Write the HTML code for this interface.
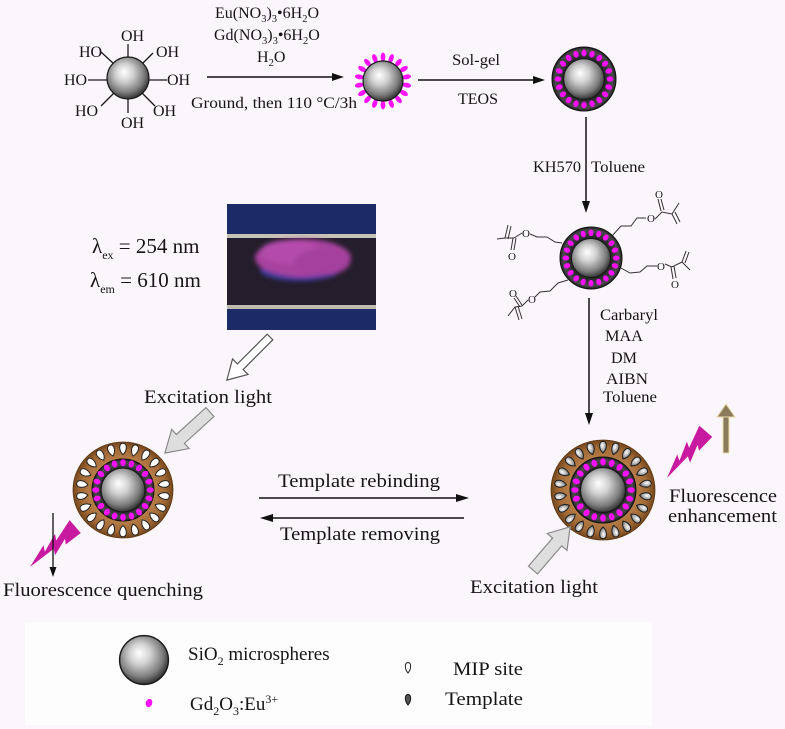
<!DOCTYPE html>
<html>
<head>
<meta charset="utf-8">
<style>
html,body{margin:0;padding:0;background:#fbf6fb;}
svg{display:block;}
text{font-family:"Liberation Serif",serif;fill:#151515;}
</style>
</head>
<body>
<svg width="785" height="729" viewBox="0 0 785 729" xmlns="http://www.w3.org/2000/svg">
<defs>
  <radialGradient id="sg" cx="0.45" cy="0.42" r="0.6" fx="0.4" fy="0.35">
    <stop offset="0" stop-color="#ffffff"/>
    <stop offset="0.35" stop-color="#d2d2d2"/>
    <stop offset="0.75" stop-color="#7c7c7c"/>
    <stop offset="1" stop-color="#2a2a2a"/>
  </radialGradient>
  <radialGradient id="dr" cx="0.5" cy="0.5" r="0.5">
    <stop offset="0.6" stop-color="#1e1e1e"/>
    <stop offset="0.9" stop-color="#4a4a4a"/>
    <stop offset="1" stop-color="#222"/>
  </radialGradient>
  <radialGradient id="br" cx="0.5" cy="0.5" r="0.5">
    <stop offset="0.55" stop-color="#c08650"/>
    <stop offset="0.85" stop-color="#a36a36"/>
    <stop offset="1" stop-color="#74461c"/>
  </radialGradient>
  <radialGradient id="tg" cx="0.4" cy="0.35" r="0.7">
    <stop offset="0" stop-color="#ffffff"/>
    <stop offset="0.6" stop-color="#a8a8a8"/>
    <stop offset="1" stop-color="#3a3a3a"/>
  </radialGradient>
  <filter id="blur1"><feGaussianBlur stdDeviation="2.5"/></filter>

  <g id="ball"><circle r="20" fill="url(#sg)" stroke="#1a1a1a" stroke-width="1.2"/></g>

  <g id="pring" fill="#ff10ff">
    <ellipse cx="0" cy="-26" rx="2.6" ry="3.4" transform="rotate(0)"/>
    <ellipse cx="0" cy="-26" rx="2.6" ry="3.4" transform="rotate(18)"/>
    <ellipse cx="0" cy="-26" rx="2.6" ry="3.4" transform="rotate(36)"/>
    <ellipse cx="0" cy="-26" rx="2.6" ry="3.4" transform="rotate(54)"/>
    <ellipse cx="0" cy="-26" rx="2.6" ry="3.4" transform="rotate(72)"/>
    <ellipse cx="0" cy="-26" rx="2.6" ry="3.4" transform="rotate(90)"/>
    <ellipse cx="0" cy="-26" rx="2.6" ry="3.4" transform="rotate(108)"/>
    <ellipse cx="0" cy="-26" rx="2.6" ry="3.4" transform="rotate(126)"/>
    <ellipse cx="0" cy="-26" rx="2.6" ry="3.4" transform="rotate(144)"/>
    <ellipse cx="0" cy="-26" rx="2.6" ry="3.4" transform="rotate(162)"/>
    <ellipse cx="0" cy="-26" rx="2.6" ry="3.4" transform="rotate(180)"/>
    <ellipse cx="0" cy="-26" rx="2.6" ry="3.4" transform="rotate(198)"/>
    <ellipse cx="0" cy="-26" rx="2.6" ry="3.4" transform="rotate(216)"/>
    <ellipse cx="0" cy="-26" rx="2.6" ry="3.4" transform="rotate(234)"/>
    <ellipse cx="0" cy="-26" rx="2.6" ry="3.4" transform="rotate(252)"/>
    <ellipse cx="0" cy="-26" rx="2.6" ry="3.4" transform="rotate(270)"/>
    <ellipse cx="0" cy="-26" rx="2.6" ry="3.4" transform="rotate(288)"/>
    <ellipse cx="0" cy="-26" rx="2.6" ry="3.4" transform="rotate(306)"/>
    <ellipse cx="0" cy="-26" rx="2.6" ry="3.4" transform="rotate(324)"/>
    <ellipse cx="0" cy="-26" rx="2.6" ry="3.4" transform="rotate(342)"/>
  </g>

  <g id="spikes" fill="#ff10ff">
    <ellipse cx="0" cy="-24" rx="2.4" ry="4.5" transform="rotate(0)"/>
    <ellipse cx="0" cy="-24" rx="2.4" ry="4.5" transform="rotate(20)"/>
    <ellipse cx="0" cy="-24" rx="2.4" ry="4.5" transform="rotate(40)"/>
    <ellipse cx="0" cy="-24" rx="2.4" ry="4.5" transform="rotate(60)"/>
    <ellipse cx="0" cy="-24" rx="2.4" ry="4.5" transform="rotate(80)"/>
    <ellipse cx="0" cy="-24" rx="2.4" ry="4.5" transform="rotate(100)"/>
    <ellipse cx="0" cy="-24" rx="2.4" ry="4.5" transform="rotate(120)"/>
    <ellipse cx="0" cy="-24" rx="2.4" ry="4.5" transform="rotate(140)"/>
    <ellipse cx="0" cy="-24" rx="2.4" ry="4.5" transform="rotate(160)"/>
    <ellipse cx="0" cy="-24" rx="2.4" ry="4.5" transform="rotate(180)"/>
    <ellipse cx="0" cy="-24" rx="2.4" ry="4.5" transform="rotate(200)"/>
    <ellipse cx="0" cy="-24" rx="2.4" ry="4.5" transform="rotate(220)"/>
    <ellipse cx="0" cy="-24" rx="2.4" ry="4.5" transform="rotate(240)"/>
    <ellipse cx="0" cy="-24" rx="2.4" ry="4.5" transform="rotate(260)"/>
    <ellipse cx="0" cy="-24" rx="2.4" ry="4.5" transform="rotate(280)"/>
    <ellipse cx="0" cy="-24" rx="2.4" ry="4.5" transform="rotate(300)"/>
    <ellipse cx="0" cy="-24" rx="2.4" ry="4.5" transform="rotate(320)"/>
    <ellipse cx="0" cy="-24" rx="2.4" ry="4.5" transform="rotate(340)"/>
  </g>

  <path id="drop" d="M0,5.5 C-4.4,1.5 -4.4,-5.8 0,-5.8 C4.4,-5.8 4.4,1.5 0,5.5Z"/>

  <g id="sites">
    <use href="#drop" transform="rotate(0) translate(0,-41)"/>
    <use href="#drop" transform="rotate(16.36) translate(0,-41)"/>
    <use href="#drop" transform="rotate(32.73) translate(0,-41)"/>
    <use href="#drop" transform="rotate(49.09) translate(0,-41)"/>
    <use href="#drop" transform="rotate(65.45) translate(0,-41)"/>
    <use href="#drop" transform="rotate(81.82) translate(0,-41)"/>
    <use href="#drop" transform="rotate(98.18) translate(0,-41)"/>
    <use href="#drop" transform="rotate(114.55) translate(0,-41)"/>
    <use href="#drop" transform="rotate(130.91) translate(0,-41)"/>
    <use href="#drop" transform="rotate(147.27) translate(0,-41)"/>
    <use href="#drop" transform="rotate(163.64) translate(0,-41)"/>
    <use href="#drop" transform="rotate(180) translate(0,-41)"/>
    <use href="#drop" transform="rotate(196.36) translate(0,-41)"/>
    <use href="#drop" transform="rotate(212.73) translate(0,-41)"/>
    <use href="#drop" transform="rotate(229.09) translate(0,-41)"/>
    <use href="#drop" transform="rotate(245.45) translate(0,-41)"/>
    <use href="#drop" transform="rotate(261.82) translate(0,-41)"/>
    <use href="#drop" transform="rotate(278.18) translate(0,-41)"/>
    <use href="#drop" transform="rotate(294.55) translate(0,-41)"/>
    <use href="#drop" transform="rotate(310.91) translate(0,-41)"/>
    <use href="#drop" transform="rotate(327.27) translate(0,-41)"/>
    <use href="#drop" transform="rotate(343.64) translate(0,-41)"/>
  </g>

  <path id="bolt" d="M0,0 L24,-9 L21,-3 L40,-11 L37,-5 L60,-13 L61,4 L42,4 L45,-1 L27,6 L30,0 Z"/>
</defs>

<!-- legend white box -->
<rect x="25" y="622" width="627" height="103" fill="#ffffff" opacity="0.75"/>

<!-- ===== OH sphere ===== -->
<g stroke="#1a1a1a" stroke-width="1.3">
  <line x1="128" y1="57" x2="128" y2="44"/>
  <line x1="142" y1="64" x2="153" y2="53"/>
  <line x1="149" y1="80" x2="167" y2="80"/>
  <line x1="142" y1="93" x2="155" y2="106"/>
  <line x1="128" y1="99" x2="128" y2="113"/>
  <line x1="114" y1="93" x2="101" y2="106"/>
  <line x1="107" y1="80" x2="88" y2="80"/>
  <line x1="114" y1="64" x2="101" y2="52"/>
</g>
<use href="#ball" transform="translate(128,78) scale(1.05)"/>
<g font-size="16">
  <text x="121" y="41">OH</text>
  <text x="79" y="57">HO</text>
  <text x="156" y="57">OH</text>
  <text x="64" y="85">HO</text>
  <text x="167" y="85">OH</text>
  <text x="75" y="116">HO</text>
  <text x="153" y="116">OH</text>
  <text x="121" y="128">OH</text>
</g>

<!-- arrow 1 -->
<line x1="207" y1="77" x2="334" y2="77" stroke="#111" stroke-width="1.5"/>
<polygon points="332,73 344,77 332,81" fill="#111"/>
<text x="215" y="18" font-size="16">Eu(NO<tspan font-size="10.5" dy="4">3</tspan><tspan dy="-4">)</tspan><tspan font-size="10.5" dy="4">3</tspan><tspan dy="-4">•6H</tspan><tspan font-size="10.5" dy="4">2</tspan><tspan dy="-4">O</tspan></text>
<text x="214" y="40" font-size="16">Gd(NO<tspan font-size="10.5" dy="4">3</tspan><tspan dy="-4">)</tspan><tspan font-size="10.5" dy="4">3</tspan><tspan dy="-4">•6H</tspan><tspan font-size="10.5" dy="4">2</tspan><tspan dy="-4">O</tspan></text>
<text x="257" y="62" font-size="16">H<tspan font-size="10.5" dy="4">2</tspan><tspan dy="-4">O</tspan></text>
<text x="191" y="108" font-size="16" textLength="166" lengthAdjust="spacingAndGlyphs">Ground, then 110  °C/3h</text>

<!-- sphere 2 -->
<use href="#spikes" transform="translate(383,81)"/>
<use href="#ball" transform="translate(383,81)"/>

<!-- arrow 2 -->
<line x1="418" y1="80" x2="535" y2="80" stroke="#111" stroke-width="1.5"/>
<polygon points="533,76 545,80 533,84" fill="#111"/>
<text x="452" y="65" font-size="16" textLength="48" lengthAdjust="spacingAndGlyphs">Sol-gel</text>
<text x="458" y="104" font-size="16" textLength="40" lengthAdjust="spacingAndGlyphs">TEOS</text>

<!-- sphere 3 -->
<circle cx="584" cy="79" r="32" fill="url(#dr)" stroke="#111" stroke-width="1"/>
<use href="#pring" transform="translate(584,79)"/>
<use href="#ball" transform="translate(584,79) scale(1.02)"/>

<!-- vertical arrow 1 -->
<line x1="586" y1="117" x2="586" y2="203" stroke="#111" stroke-width="1.5"/>
<polygon points="582,201 586,213 590,201" fill="#111"/>
<text x="533" y="172" font-size="16" textLength="48" lengthAdjust="spacingAndGlyphs">KH570</text>
<text x="591" y="172" font-size="16" textLength="54" lengthAdjust="spacingAndGlyphs">Toluene</text>

<!-- sphere 4 with methacrylate arms -->
<g stroke="#333" stroke-width="1" fill="none">
  <polyline points="612,236 621,226 631,226 637,218 646,218"/>
  <polyline points="655,219 662,212 672,214"/>
  <line x1="661" y1="211" x2="658" y2="199"/>
  <line x1="664" y1="210" x2="661" y2="199"/>
  <polyline points="672,214 679,203"/>
  <line x1="672" y1="214" x2="677" y2="224"/>
  <line x1="675" y1="212" x2="680" y2="222"/>
  <polyline points="562,243 555,242 547,237 537,237 530,234"/>
  <polyline points="522,233 514,238 505,238 497,239"/>
  <line x1="513" y1="238" x2="511" y2="250"/>
  <line x1="516" y1="238" x2="514" y2="250"/>
  <line x1="505" y1="238" x2="508" y2="225"/>
  <line x1="508" y1="239" x2="511" y2="226"/>
  <polyline points="621,268 630,273 640,272 647,266 657,266"/>
  <polyline points="665,264 672,267 682,262"/>
  <line x1="671" y1="267" x2="673" y2="279"/>
  <line x1="674" y1="266" x2="676" y2="278"/>
  <polyline points="682,262 690,270"/>
  <line x1="682" y1="262" x2="686" y2="251"/>
  <line x1="685" y1="263" x2="689" y2="252"/>
  <polyline points="568,280 558,283 550,291 540,292 535,297"/>
  <polyline points="528,300 522,306 515,307 508,316"/>
  <line x1="522" y1="305" x2="516" y2="296"/>
  <line x1="520" y1="307" x2="514" y2="298"/>
  <line x1="515" y1="307" x2="519" y2="320"/>
  <line x1="518" y1="306" x2="522" y2="319"/>
</g>
<g font-size="11">
  <text x="647" y="222">O</text>
  <text x="655" y="198">O</text>
  <text x="522" y="237">O</text>
  <text x="508" y="260">O</text>
  <text x="657" y="270">O</text>
  <text x="671" y="288">O</text>
  <text x="528" y="303">O</text>
  <text x="509" y="297">O</text>
</g>
<circle cx="591" cy="258" r="31" fill="url(#dr)" stroke="#111" stroke-width="1"/>
<use href="#pring" transform="translate(591,258) scale(0.97)"/>
<use href="#ball" transform="translate(591,258) scale(0.98)"/>

<!-- vertical arrow 2 -->
<line x1="589" y1="298" x2="589" y2="415" stroke="#111" stroke-width="1.5"/>
<polygon points="585,413 589,425 593,413" fill="#111"/>
<g font-size="16">
  <text x="600" y="320" textLength="58" lengthAdjust="spacingAndGlyphs">Carbaryl</text>
  <text x="605" y="341" textLength="38" lengthAdjust="spacingAndGlyphs">MAA</text>
  <text x="611" y="363" textLength="26" lengthAdjust="spacingAndGlyphs">DM</text>
  <text x="606" y="384" textLength="42" lengthAdjust="spacingAndGlyphs">AIBN</text>
  <text x="603" y="402" textLength="54" lengthAdjust="spacingAndGlyphs">Toluene</text>
</g>

<!-- photo -->
<rect x="227" y="204" width="149" height="126" fill="#1c2b66"/>
<rect x="227" y="234" width="149" height="4" fill="#c6c2b6"/>
<rect x="227" y="238" width="149" height="67" fill="#241d2b"/>
<rect x="227" y="305" width="149" height="4" fill="#bfbbae"/>
<g filter="url(#blur1)">
  <ellipse cx="300" cy="270" rx="40" ry="11" fill="#3b3aa0"/>
  <ellipse cx="303" cy="258" rx="48" ry="19" fill="#a8429f"/>
  <ellipse cx="290" cy="252" rx="30" ry="12" fill="#b44cac"/>
  <ellipse cx="322" cy="262" rx="28" ry="13" fill="#a4409e"/>
</g>

<!-- lambda text -->
<text x="92" y="253" font-size="21">λ<tspan font-size="12" dy="6">ex</tspan><tspan dy="-6"> = 254 nm</tspan></text>
<text x="90" y="287" font-size="21">λ<tspan font-size="12" dy="6">em</tspan><tspan dy="-6"> = 610 nm</tspan></text>

<!-- hollow arrow from photo -->
<path d="M0,-4 L42,-4 L42,-11 L61,0 L42,11 L42,4 L0,4 Z" fill="#ffffff" stroke="#555" stroke-width="1.2" transform="translate(270,337) rotate(135)"/>
<text x="144" y="403" font-size="19" textLength="128" lengthAdjust="spacingAndGlyphs">Excitation light</text>

<!-- grey arrow to left sphere -->
<path d="M0,-6 L40,-6 L40,-13 L61,0 L40,13 L40,6 L0,6 Z" fill="#dedede" stroke="#8a8a8a" stroke-width="1.2" transform="translate(210,412) rotate(137.7)"/>

<!-- left MIP sphere -->
<ellipse cx="123" cy="490" rx="50" ry="48" fill="url(#br)" stroke="#5a3510" stroke-width="0.8"/>
<g transform="translate(123,490)" fill="#ffffff" stroke="#222" stroke-width="1">
  <use href="#sites"/>
</g>
<circle cx="123" cy="490" r="31" fill="url(#dr)" stroke="#111" stroke-width="1"/>
<use href="#pring" transform="translate(123,490) scale(1.05)"/>
<use href="#ball" transform="translate(123,490) scale(1.1)"/>

<!-- left lightning + arrow -->
<use href="#bolt" fill="#c81aa0" transform="translate(30,567) rotate(-37.6)"/>
<line x1="53" y1="513" x2="53" y2="568" stroke="#111" stroke-width="1.3"/>
<polygon points="49.5,567 53,577 56.5,567" fill="#111"/>
<text x="3" y="596" font-size="19" textLength="200" lengthAdjust="spacingAndGlyphs">Fluorescence quenching</text>

<!-- template arrows -->
<line x1="259" y1="498" x2="458" y2="498" stroke="#111" stroke-width="1.5"/>
<polygon points="456,494 469,498 456,502" fill="#111"/>
<line x1="272" y1="518" x2="464" y2="518" stroke="#111" stroke-width="1.5"/>
<polygon points="273,514 260,518 273,522" fill="#111"/>
<text x="278" y="487" font-size="19" textLength="162" lengthAdjust="spacingAndGlyphs">Template rebinding</text>
<text x="280" y="540" font-size="19" textLength="160" lengthAdjust="spacingAndGlyphs">Template removing</text>

<!-- right MIP sphere -->
<ellipse cx="603" cy="490" rx="52" ry="50" fill="url(#br)" stroke="#5a3510" stroke-width="0.8"/>
<g transform="translate(603,490) scale(1.04)" fill="url(#tg)" stroke="#222" stroke-width="1">
  <use href="#sites"/>
</g>
<circle cx="603" cy="490" r="33" fill="url(#dr)" stroke="#111" stroke-width="1"/>
<use href="#pring" transform="translate(603,490) scale(1.08)"/>
<use href="#ball" transform="translate(603,490) scale(1.13)"/>

<!-- right lightning + brown arrow -->
<use href="#bolt" fill="#c81aa0" transform="translate(667,478) rotate(-46)"/>
<rect x="723" y="415" width="6" height="38" fill="#8a7b5c" stroke="#eadca8" stroke-width="1"/>
<polygon points="717,417 735,417 726,404" fill="#8a7b5c" stroke="#eadca8" stroke-width="1"/>
<text x="669" y="502" font-size="19" textLength="108" lengthAdjust="spacingAndGlyphs">Fluorescence</text>
<text x="668" y="522" font-size="19" textLength="109" lengthAdjust="spacingAndGlyphs">enhancement</text>

<!-- bottom right grey arrow -->
<path d="M0,-6 L37,-6 L37,-13 L57,0 L37,13 L37,6 L0,6 Z" fill="#dedede" stroke="#8a8a8a" stroke-width="1.2" transform="translate(533,570) rotate(-49.3)"/>
<text x="470" y="593" font-size="19" textLength="128" lengthAdjust="spacingAndGlyphs">Excitation light</text>

<!-- legend -->
<use href="#ball" transform="translate(144,660) scale(1.22)"/>
<text x="188" y="660" font-size="19">SiO<tspan font-size="12" dy="5">2</tspan><tspan dy="-5"> microspheres</tspan></text>
<ellipse cx="149" cy="703" rx="3.2" ry="4.2" fill="#ff10ff" transform="rotate(20 149 703)"/>
<text x="190" y="710" font-size="19">Gd<tspan font-size="12" dy="5">2</tspan><tspan dy="-5">O</tspan><tspan font-size="12" dy="5">3</tspan><tspan dy="-5">:Eu</tspan><tspan font-size="12" dy="-7">3+</tspan></text>
<path d="M0,-5.5 C-3.5,-5.5 -3.5,1 0,5 C3.5,1 3.5,-5.5 0,-5.5Z" fill="#fff" stroke="#222" stroke-width="1" transform="translate(408,668)"/>
<path d="M0,-5.5 C-3.5,-5.5 -3.5,1 0,5 C3.5,1 3.5,-5.5 0,-5.5Z" fill="#555" stroke="#111" stroke-width="1" transform="translate(408,700)"/>
<text x="453" y="675" font-size="19" textLength="70" lengthAdjust="spacingAndGlyphs">MIP site</text>
<text x="445" y="705" font-size="19" textLength="78" lengthAdjust="spacingAndGlyphs">Template</text>
</svg>
</body>
</html>
